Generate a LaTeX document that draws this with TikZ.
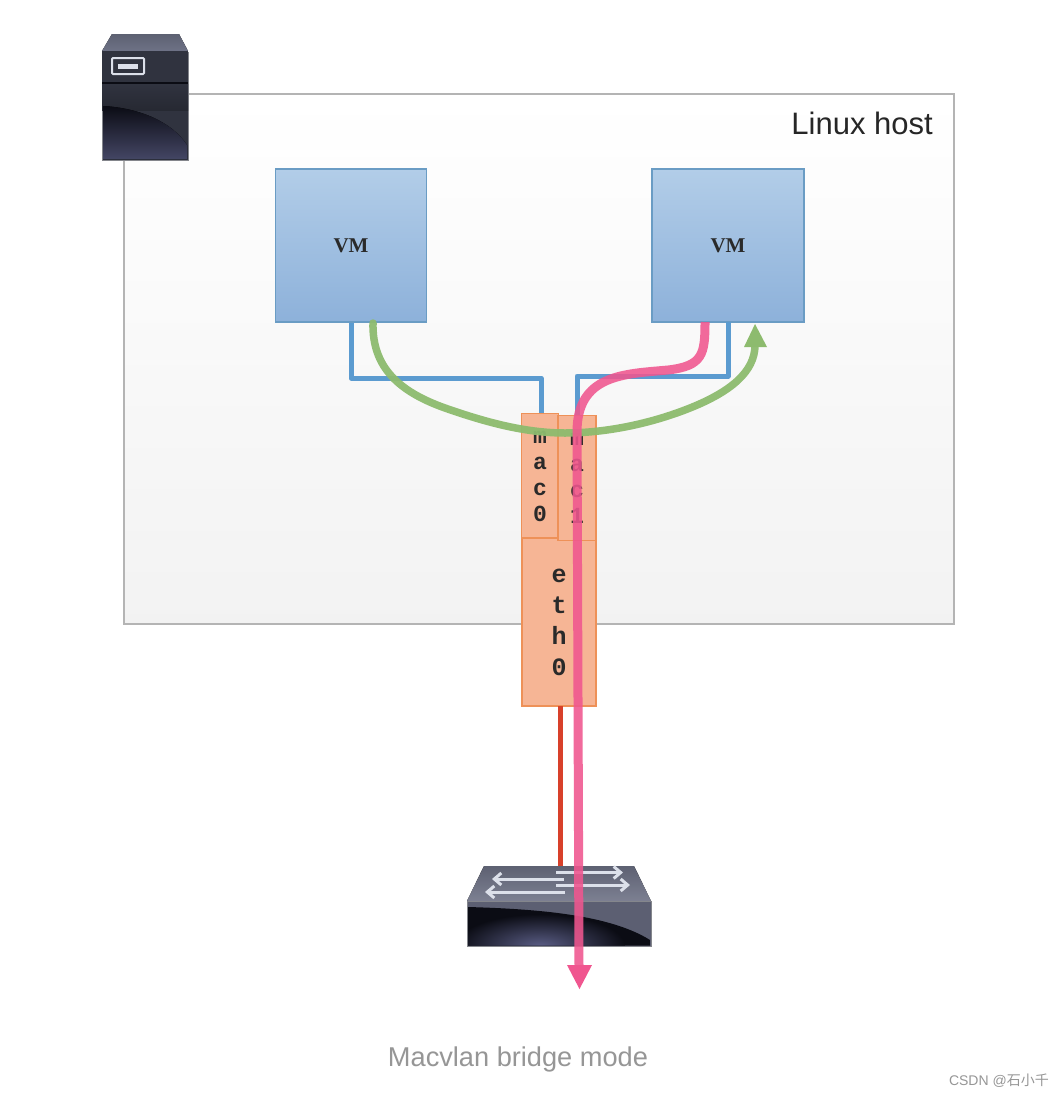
\documentclass[tikz,border=0pt]{standalone}
\usepackage{fontspec}
\setmainfont{Liberation Sans}
\newfontfamily\monob{Liberation Mono}[BoldFont=Liberation Mono Bold]
\newfontfamily\serifb{Liberation Serif}[BoldFont=Liberation Serif Bold]
\newfontfamily\cjkf{Noto Sans CJK SC}
\usetikzlibrary{arrows.meta,calc}
\definecolor{hostline}{HTML}{B4B4B4}
\definecolor{vmline}{HTML}{6A9CC4}
\definecolor{vmtop}{HTML}{B2CDE8}
\definecolor{vmbot}{HTML}{8DB1DA}
\definecolor{macfill}{HTML}{F6B595}
\definecolor{macline}{HTML}{EE9158}
\definecolor{bluew}{HTML}{5B9BD0}
\definecolor{greenw}{HTML}{8DBB6E}
\definecolor{pinkw}{HTML}{F0568F}
\definecolor{redw}{HTML}{D8402A}
\definecolor{txtdark}{HTML}{2A2A2A}
\definecolor{capgray}{HTML}{969696}
\definecolor{icontop}{HTML}{6E7286}
\definecolor{iconmid}{HTML}{30333F}
\definecolor{iconband}{HTML}{5C5F72}
\definecolor{icondark}{HTML}{0B0C14}
\definecolor{iconglow}{HTML}{5A5D85}
\definecolor{iconpale}{HTML}{DCE0EA}
\tikzset{
  hostbox/.style={draw=hostline,line width=1.4pt,top color=white,bottom color=black!5,minimum width=830pt,minimum height=530pt,inner sep=0pt},
  vmbox/.style={draw=vmline,line width=1.2pt,top color=vmtop,bottom color=vmbot,inner sep=0pt,font=\serifb\bfseries\fontsize{21}{21}\selectfont,text=txtdark},
  macbox/.style={draw=macline,line width=1.4pt,fill=macfill,inner sep=0pt,align=center,text=txtdark,font=\monob\bfseries\fontsize{23}{26}\selectfont},
  bluewire/.style={draw=bluew,line width=5pt,line join=round},
  greenwire/.style={draw=greenw,line width=7.5pt,line cap=round,opacity=.95},
  pinkwire/.style={draw=pinkw,line width=9pt,opacity=.88},
  redwire/.style={draw=redw,line width=5pt},
  headgreen/.style={fill=greenw,draw=none},
  headpink/.style={fill=pinkw,draw=none},
  iconbody/.style={draw=iconpale!60!black,line width=.8pt},
  switcharrow/.style={draw=iconpale,line width=3pt,-{Straight Barb[length=7pt,width=12pt]}},
}
\begin{document}
\begin{tikzpicture}[x=1pt,y=-1pt]
\useasboundingbox (0,0) rectangle (1064,1098);
\fill[white] (0,0) rectangle (1064,1098);

% host
\node[hostbox] (host) at (539,359) {};
\node[font=\fontsize{31}{31}\selectfont,text=black!85,anchor=east,inner sep=0pt] (hostlabel) at (933,123) {Linux host};

% server icon
\path[iconbody,top color=iconmid,bottom color=iconmid] (102,52) -- (102,160) -- (188,160) -- (188,52) -- cycle;
\fill[top color=icontop!85!black,bottom color=icontop] (112,34) -- (179,34) -- (188,51) -- (102,51) -- cycle;
\fill[iconmid] (102,51) rectangle (188,82);
\fill[icondark] (102,81.5) rectangle (188,84);
\fill[top color=iconmid,bottom color=iconmid!80!black] (102,84) rectangle (188,110);
\fill[top color=icondark,bottom color=iconglow!75!black] (103,106) .. controls (140,108) and (172,122) .. (187,145) -- (187,159) -- (103,159) -- cycle;
\draw[iconpale,line width=2pt,rounded corners=1pt] (112,58) rectangle (144,74);
\fill[iconpale] (118,63.5) rectangle (138,68.5);

% VMs
\node[vmbox,minimum width=151pt,minimum height=153pt] (vm1) at (351,245.5) {VM};
\node[vmbox,minimum width=152pt,minimum height=153pt] (vm2) at (728,245.5) {VM};

% port boxes
\node[macbox,minimum width=37pt,minimum height=125pt] (mac0) at (540,476) {m\\a\\c\\0};
\node[macbox,minimum width=74pt,minimum height=168pt,font=\monob\bfseries\fontsize{25}{31}\selectfont] (eth0) at (559,622) {e\\t\\h\\0};
\node[macbox,minimum width=38pt,minimum height=125pt] (mac1) at (577,478) {m\\a\\c\\1};

% switch icon
\fill[top color=icontop!85!black,bottom color=icontop!90!white] (484,866) -- (634,866) -- (651,901) -- (467,901) -- cycle;
\path[iconbody,top color=iconband,bottom color=iconband] (467,901) rectangle (651,946);
\node[inner sep=0pt,minimum width=184pt,minimum height=80pt] (switch) at (559,906) {};
\begin{scope}
  \clip (468,907) .. controls (540,909) and (610,915) .. (650,940) -- (650,945.5) -- (468,945.5) -- cycle;
  \fill[icondark] (468,900) rectangle (650,946);
  \shade[inner color=iconglow,outer color=icondark] (540,946) ellipse (85pt and 32pt);
\end{scope}
\coordinate (sa1s) at (556,872.5); \coordinate (sa1e) at (623,872.5);
\coordinate (sa2s) at (556,885); \coordinate (sa2e) at (630,885);
\coordinate (sa3s) at (564,879); \coordinate (sa3e) at (492,879);
\coordinate (sa4s) at (565,892); \coordinate (sa4e) at (485,892);
\draw[switcharrow] (sa1s) -- (sa1e);
\draw[switcharrow] (sa2s) -- (sa2e);
\draw[switcharrow] (sa3s) -- (sa3e);
\draw[switcharrow] (sa4s) -- (sa4e);

% blue wires
\coordinate (b1a) at (vm1.south);
\coordinate (b1b) at (351,378);
\coordinate (b1c) at (541,378);
\coordinate (b2a) at (728,322);
\coordinate (b2b) at (728,376);
\coordinate (b2c) at (577,376);
\draw[bluewire] (b1a) -- (b1b) -- (b1c) -- (b1c |- mac0.north);
\draw[bluewire] (b2a) -- (b2b) -- (b2c) -- (b2c |- mac1.north);

% red wire
\coordinate (r1) at (560,706);
\coordinate (r2) at (560,866);
\draw[redwire] (r1) -- (r2);

% green path
\coordinate (g0) at (373,323);
\coordinate (g1) at (445,408);
\coordinate (g2) at (565,433);
\coordinate (g3) at (690,408);
\coordinate (g4) at (755,345);
\draw[greenwire] (g0) .. controls (372,368) and (400,392) .. (g1)
  .. controls (485,422) and (525,433) .. (g2)
  .. controls (605,433) and (650,424) .. (g3)
  .. controls (730,392) and (755,372) .. (g4);
\fill[headgreen] (755,324) -- (767,347) -- (744,347) -- cycle;

% pink path
\coordinate (p0) at (705,322);
\coordinate (p1) at (668,370);
\coordinate (p2) at (577,432);
\coordinate (p3) at (579,966);
\draw[pinkwire] (p0) .. controls (705,354) and (703,366) .. (p1)
  .. controls (625,374) and (577,374) .. (p2) -- (p3);
\fill[headpink] (567,965) -- (592,965) -- (579.5,989) -- cycle;

% captions
\node[font=\fontsize{27.2}{27.2}\selectfont,text=capgray,inner sep=0pt] (caption) at (518,1059) {Macvlan bridge mode};
\node[font=\fontsize{14}{14}\selectfont,text=capgray,inner sep=0pt,anchor=east] (mark) at (1049,1081) {CSDN @{\cjkf 石小千}};
\end{tikzpicture}
\end{document}
